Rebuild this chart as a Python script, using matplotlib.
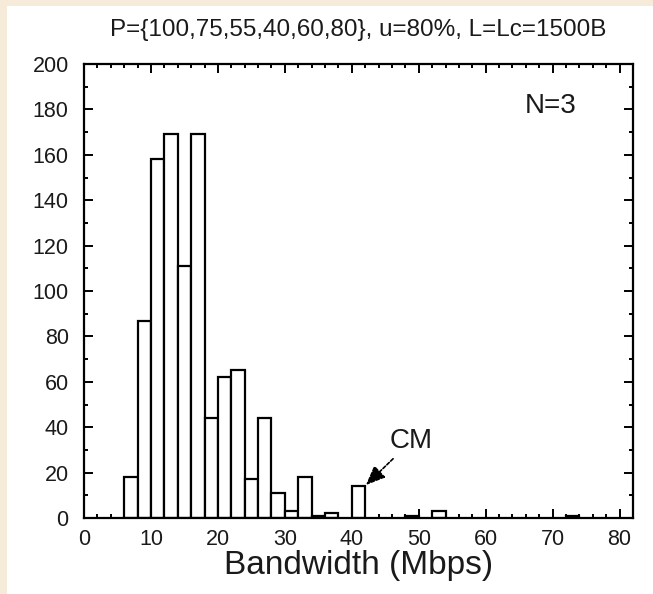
import matplotlib
matplotlib.use("Agg")
import matplotlib.pyplot as plt
from matplotlib.patches import Rectangle
from matplotlib.ticker import MultipleLocator

# Data: histogram bins (left edge, Mbps) and counts
bin_left = [6, 8, 10, 12, 14, 16, 18, 20, 22, 24, 26, 28, 30, 32, 34, 36, 40, 48, 52, 72]
counts   = [18, 87, 158, 169, 111, 169, 44, 62, 65, 17, 44, 11, 3, 18, 1, 2, 14, 1, 3, 1]
bin_width = 2

title = "P={100,75,55,40,60,80}, u=80%, L=Lc=1500B"
xlabel = "Bandwidth (Mbps)"
xticks = [0, 10, 20, 30, 40, 50, 60, 70, 80]
yticks = [0, 20, 40, 60, 80, 100, 120, 140, 160, 180, 200]

plt.rcParams['font.family'] = ['Liberation Sans', 'DejaVu Sans']

W, H = 653, 594
fig = plt.figure(figsize=(W / 100, H / 100), dpi=100)
fig.patch.set_facecolor('white')
# beige frame on left and top
fig.patches.append(Rectangle((0, 0), 7 / W, 1, transform=fig.transFigure,
                             facecolor='#f6ead9', edgecolor='none', zorder=0))
fig.patches.append(Rectangle((0, 1 - 6 / H), 1, 6 / H, transform=fig.transFigure,
                             facecolor='#f6ead9', edgecolor='none', zorder=0))

ax = fig.add_axes([84 / W, (H - 518) / H, (633 - 84) / W, (518 - 64) / H])
ax.bar(bin_left, counts, width=bin_width, align='edge', facecolor='white',
       edgecolor='black', linewidth=1.6, zorder=2)

ax.set_xlim(0, 82)
ax.set_ylim(0, 200)
ax.set_xticks(xticks)
ax.set_yticks(yticks)
ax.xaxis.set_minor_locator(MultipleLocator(2))
ax.yaxis.set_minor_locator(MultipleLocator(10))
ax.tick_params(which='both', direction='in', top=True, right=True, width=1.4, colors='black')
ax.tick_params(which='major', length=6.5)
ax.tick_params(which='minor', length=3)
ax.tick_params(axis='both', labelcolor='#1a1a1a')
ax.tick_params(axis='x', labelsize=15.5, pad=8)
ax.tick_params(axis='y', labelsize=15.5, pad=11)
for s in ax.spines.values():
    s.set_linewidth(1.6)

ax.set_xlabel(xlabel, fontsize=24, labelpad=0, color='#1a1a1a')
fig.text(358 / W, 1 - 30 / H, title, ha='center', va='center', fontsize=17.5, color='#1a1a1a')

ax.text(69.7, 181.5, "N=3", ha='center', va='center', fontsize=20, color='#1a1a1a')
ax.annotate("CM", xy=(42.1, 14.5), xytext=(48.9, 33.9), ha='center', va='center',
            fontsize=20, color='#1a1a1a',
            arrowprops=dict(arrowstyle='-|>,head_length=0.6,head_width=0.25',
                            color='black', lw=1.2, linestyle=(0, (2, 1.2)),
                            shrinkA=2, shrinkB=0))

fig.savefig("out.png", dpi=100)
